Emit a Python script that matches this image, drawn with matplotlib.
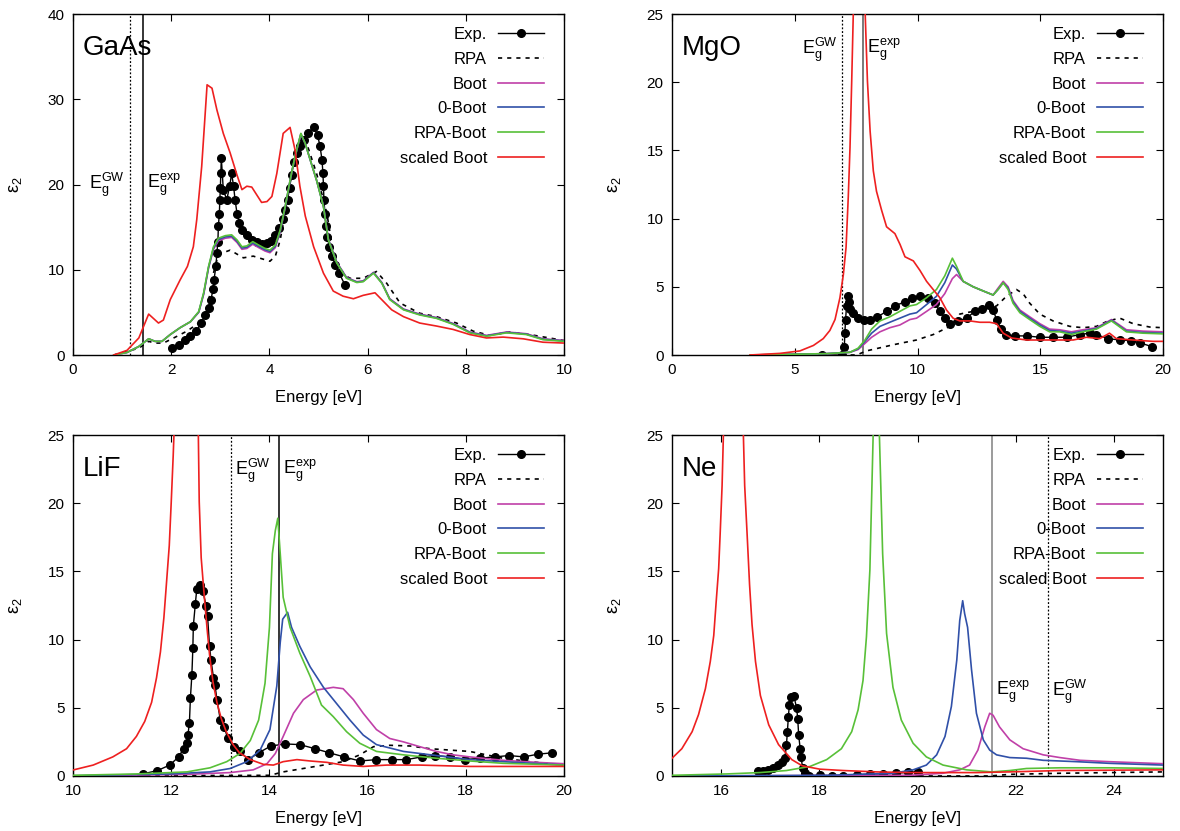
import matplotlib
matplotlib.use('Agg')
import matplotlib.pyplot as plt

plt.rcParams['font.family'] = ['Liberation Sans', 'DejaVu Sans']
plt.rcParams['mathtext.fontset'] = 'custom'
plt.rcParams['mathtext.rm'] = 'Liberation Sans'
plt.rcParams['mathtext.it'] = 'Liberation Sans:italic'
plt.rcParams['mathtext.sf'] = 'Liberation Sans'

labels = ['Exp.', 'RPA', 'Boot', '0-Boot', 'RPA-Boot', 'scaled Boot']

# ---------------- GaAs ----------------
gaas_exp_e = [2.01, 2.15, 2.28, 2.39, 2.51, 2.61, 2.69, 2.76, 2.81, 2.85, 2.87, 2.91, 2.93, 2.95, 2.96,
              2.98, 2.99, 3.0, 3.01, 3.02, 3.06, 3.13, 3.19, 3.23, 3.27, 3.30, 3.34, 3.39, 3.45, 3.54,
              3.64, 3.74, 3.84, 3.95, 4.03, 4.12, 4.20, 4.27, 4.32, 4.37, 4.41, 4.45, 4.49, 4.56, 4.62,
              4.71, 4.79, 4.90, 4.98, 5.03, 5.07, 5.09, 5.10, 5.11, 5.13, 5.15, 5.18, 5.22, 5.27, 5.34,
              5.42, 5.54]
gaas_exp = [0.8, 1.2, 1.8, 2.2, 2.8, 3.75, 4.7, 5.5, 6.5, 7.7, 8.8, 10.4, 12.0, 13.3, 15.1,
            16.6, 18.2, 19.6, 21.3, 23.1, 19.4, 18.2, 19.8, 21.3, 19.8, 18.2, 16.6, 15.5, 14.7, 14.1,
            13.5, 13.2, 13.0, 13.1, 13.4, 14.1, 14.9, 15.9, 17.0, 18.2, 19.6, 21.1, 22.7, 23.7, 24.5,
            25.2, 26.0, 26.8, 25.8, 24.5, 22.9, 21.3, 19.8, 18.2, 16.6, 15.1, 13.9, 12.7, 11.6, 10.6,
            9.6, 8.2]

gaas_rpa_e = [0.83, 1.34, 1.54, 1.67, 1.84, 2.05, 2.32, 2.56, 2.73, 2.86, 2.96, 3.2, 3.47, 3.67, 4.01,
              4.12, 4.22, 4.42, 4.56, 4.66, 4.76, 4.96, 5.17, 5.30, 5.47, 5.64, 5.91, 6.18, 6.39, 6.66,
              7.06, 7.40, 7.81, 8.15, 8.49, 8.89, 9.30, 10.0]
gaas_rpa = [0, 0.8, 1.6, 1.4, 1.4, 2.0, 2.8, 3.75, 5.3, 9.6, 11.8, 12.3, 11.4, 11.6, 11.0,
            11.6, 13.5, 20.3, 23.3, 25.2, 24.8, 21.3, 16.6, 12.0, 9.6, 9.0, 9.0, 9.8, 8.4, 6.1,
            4.9, 4.5, 3.75, 2.8, 2.3, 2.7, 2.4, 1.7]

gaas_boot_e = [0.83, 1.1, 1.34, 1.54, 1.67, 1.81, 1.98, 2.18, 2.39, 2.56, 2.66, 2.76, 2.86, 2.96, 3.10,
               3.23, 3.34, 3.44, 3.54, 3.66, 3.78, 3.91, 4.01, 4.12, 4.22, 4.32, 4.42, 4.52, 4.64, 4.73,
               4.83, 4.96, 5.10, 5.20, 5.37, 5.57, 5.78, 5.91, 6.12, 6.29, 6.45, 6.73, 7.06, 7.40, 7.74,
               8.08, 8.42, 8.83, 9.23, 9.57, 10.0]
gaas_boot = [0, 0.3, 1.0, 1.9, 1.6, 1.6, 2.4, 3.2, 3.9, 5.0, 7.1, 10.2, 12.4, 13.4, 13.7,
             13.8, 13.2, 12.4, 12.5, 13.0, 12.6, 12.2, 12.0, 12.6, 14.5, 17.3, 20.4, 23.2, 25.9, 24.8,
             22.9, 20.5, 17.5, 13.6, 10.9, 9.1, 8.6, 8.7, 9.7, 8.5, 6.6, 5.4, 4.8, 4.4, 3.7,
             2.7, 2.3, 2.7, 2.5, 1.9, 1.7]
gaas_zboot = [0, 0.3, 1.0, 1.9, 1.6, 1.6, 2.4, 3.2, 3.9, 5.05, 7.2, 10.3, 12.55, 13.55, 13.85,
              13.95, 13.35, 12.55, 12.65, 13.15, 12.75, 12.35, 12.15, 12.75, 14.6, 17.35, 20.45, 23.25, 25.95, 24.8,
              22.9, 20.5, 17.45, 13.55, 10.85, 9.05, 8.55, 8.65, 9.65, 8.45, 6.55, 5.35, 4.75, 4.35, 3.65,
              2.65, 2.25, 2.65, 2.45, 1.85, 1.65]
gaas_rboot = [0, 0.3, 1.0, 1.9, 1.6, 1.6, 2.4, 3.2, 3.9, 5.1, 7.3, 10.4, 12.7, 13.7, 14.0,
              14.1, 13.5, 12.7, 12.8, 13.3, 12.9, 12.5, 12.3, 12.9, 14.7, 17.4, 20.5, 23.3, 26.0, 24.8,
              22.9, 20.5, 17.4, 13.5, 10.8, 9.0, 8.5, 8.6, 9.6, 8.4, 6.5, 5.3, 4.7, 4.3, 3.6,
              2.6, 2.2, 2.6, 2.4, 1.8, 1.6]

gaas_sboot_e = [0.83, 1.1, 1.34, 1.54, 1.74, 1.84, 1.98, 2.18, 2.33, 2.45, 2.52, 2.62, 2.73, 2.83, 2.93,
                3.06, 3.20, 3.34, 3.44, 3.54, 3.64, 3.74, 3.84, 3.95, 4.05, 4.15, 4.28, 4.42, 4.52, 4.62,
                4.73, 4.90, 5.10, 5.30, 5.50, 5.71, 5.91, 6.15, 6.32, 6.49, 6.73, 7.06, 7.40, 7.74, 8.08,
                8.42, 8.76, 9.17, 9.57, 10.0]
gaas_sboot = [0, 0.55, 2.0, 4.8, 3.75, 4.1, 6.5, 8.8, 10.4, 12.7, 15.9, 22.1, 31.7, 31.3, 28.75,
              26.0, 23.7, 21.1, 19.4, 19.8, 19.7, 18.8, 17.9, 18.0, 18.6, 21.3, 26.0, 26.7, 24.1, 19.8,
              16.3, 12.7, 9.6, 7.5, 6.9, 6.6, 7.0, 7.3, 6.3, 5.3, 4.5, 3.75, 3.4, 3.0, 2.4,
              2.0, 2.1, 1.9, 1.5, 1.4]

# ---------------- MgO ----------------
mgo_exp_e = [6.09, 6.91, 7.02, 7.04, 7.07, 7.11, 7.15, 7.20, 7.27, 7.38, 7.58, 7.82, 8.06, 8.37, 8.74,
             9.08, 9.48, 9.76, 10.09, 10.43, 10.71, 10.91, 11.11, 11.32, 11.66, 12.0, 12.33, 12.61, 12.92, 13.08,
             13.22, 13.42, 13.62, 13.96, 14.44, 14.98, 15.52, 16.07, 16.61, 17.02, 17.29, 17.76, 18.24, 18.71, 19.05,
             19.57]
mgo_exp = [0, 0, 0.6, 1.6, 2.6, 3.6, 4.3, 3.9, 3.4, 3.1, 2.7, 2.6, 2.6, 2.8, 3.2,
           3.6, 3.9, 4.2, 4.3, 4.2, 3.8, 3.2, 2.7, 2.3, 2.5, 2.7, 3.2, 3.4, 3.7, 3.3,
           2.6, 1.9, 1.5, 1.4, 1.4, 1.3, 1.3, 1.3, 1.5, 1.6, 1.5, 1.2, 1.1, 1.05, 0.9,
           0.6]

mgo_rpa_e = [6.9, 7.52, 7.92, 9.01, 9.96, 10.64, 11.32, 11.72, 12.27, 12.81, 13.22, 13.62, 14.03, 14.30, 14.57,
             14.98, 15.52, 16.2, 16.74, 17.29, 17.76, 18.24, 18.78, 19.46, 20.0]
mgo_rpa = [0, 0, 0.3, 0.75, 1.1, 1.5, 2.1, 3.0, 3.2, 3.4, 3.6, 4.3, 4.8, 4.5, 3.8,
           3.0, 2.5, 2.1, 2.0, 2.1, 2.5, 2.7, 2.3, 2.05, 2.0]

mgo_boot_e = [3.18, 6.30, 7.25, 7.58, 7.86, 8.13, 8.47, 8.87, 9.28, 9.69, 9.96, 10.37, 10.77, 11.11, 11.42,
              11.59, 11.86, 12.27, 12.67, 13.08, 13.28, 13.49, 13.69, 13.89, 14.17, 14.57, 14.98, 15.38, 15.79, 16.27,
              16.74, 17.29, 17.90, 18.51, 19.19, 20.0]
mgo_boot = [0, 0.1, 0.2, 0.4, 0.85, 1.3, 1.7, 2.0, 2.2, 2.6, 2.7, 3.2, 3.7, 4.5, 5.6,
            5.9, 5.4, 5.0, 4.7, 4.4, 4.9, 5.4, 5.0, 4.0, 3.3, 2.8, 2.3, 1.9, 1.85, 1.7,
            1.85, 2.0, 2.6, 1.85, 1.75, 1.7]
mgo_zboot = [0, 0.1, 0.2, 0.45, 1.0, 1.6, 2.1, 2.4, 2.7, 3.0, 3.1, 3.7, 4.3, 5.3, 6.6,
             6.3, 5.4, 5.0, 4.7, 4.4, 4.8, 5.3, 4.9, 3.9, 3.2, 2.7, 2.2, 1.8, 1.75, 1.6,
             1.75, 1.95, 2.55, 1.75, 1.65, 1.6]
mgo_rboot = [0, 0.1, 0.2, 0.5, 1.1, 1.9, 2.5, 2.8, 3.2, 3.6, 3.7, 4.2, 4.8, 5.8, 7.1,
             6.5, 5.4, 5.0, 4.7, 4.4, 4.8, 5.3, 4.8, 3.8, 3.1, 2.6, 2.1, 1.7, 1.7, 1.5,
             1.7, 1.9, 2.5, 1.7, 1.6, 1.55]

mgo_sboot_e = [3.18, 4.4, 5.21, 5.76, 6.16, 6.43, 6.64, 6.84, 6.98, 7.09, 7.18, 7.25, 7.32, 7.39, 7.6,
               7.86, 7.96, 8.07, 8.2, 8.33, 8.54, 8.74, 9.08, 9.29, 9.49, 9.83, 10.1, 10.37, 10.64, 10.91,
               11.18, 11.45, 11.72, 12.13, 12.54, 12.94, 13.22, 13.49, 13.83, 14.44, 15.12, 15.79, 16.34, 16.88, 17.42,
               17.82, 18.10, 18.78, 19.59, 20.0]
mgo_sboot = [0, 0.12, 0.3, 0.7, 1.2, 1.8, 2.6, 4.2, 5.9, 7.9, 11.6, 15.2, 20.1, 25.5, 60,
             25.5, 20.1, 16.4, 13.5, 12.0, 10.6, 9.4, 8.9, 8.1, 7.2, 6.9, 6.2, 5.4, 4.8, 4.2,
             3.3, 2.7, 2.5, 2.5, 2.4, 2.4, 2.3, 1.6, 1.25, 1.1, 1.1, 1.1, 1.1, 1.3, 1.2,
             1.6, 1.2, 1.1, 1.0, 1.0]

# ---------------- LiF ----------------
lif_exp_e = [11.42, 11.72, 11.97, 12.15, 12.25, 12.32, 12.34, 12.37, 12.39, 12.42, 12.44, 12.45, 12.49, 12.52, 12.59,
             12.64, 12.71, 12.74, 12.78, 12.81, 12.86, 12.89, 12.93, 13.0, 13.08, 13.15, 13.27, 13.40, 13.57, 13.78,
             14.03, 14.32, 14.62, 14.93, 15.22, 15.52, 15.84, 16.18, 16.49, 16.79, 17.10, 17.37, 17.67, 17.98, 18.28,
             18.59, 18.88, 19.18, 19.47, 19.76]
lif_exp = [0.15, 0.4, 0.8, 1.4, 2.0, 2.4, 3.0, 3.9, 5.7, 7.4, 9.35, 11.0, 12.6, 13.7, 14.0,
           13.6, 12.5, 11.7, 9.5, 8.5, 7.2, 6.7, 5.6, 4.1, 3.6, 2.75, 2.1, 1.8, 1.2, 1.7,
           2.2, 2.35, 2.3, 2.0, 1.7, 1.4, 1.1, 1.2, 1.2, 1.2, 1.4, 1.5, 1.4, 1.2, 1.3,
           1.4, 1.5, 1.4, 1.6, 1.7]

lif_rpa_e = [10, 14.01, 14.28, 14.69, 15.1, 15.5, 15.84, 16.12, 16.45, 16.86, 17.27, 17.67, 18.08, 18.42, 18.76,
             19.3, 20]
lif_rpa = [0, 0.05, 0.3, 0.55, 0.8, 1.05, 1.55, 2.15, 2.25, 2.2, 2.0, 1.9, 1.8, 1.55, 1.3,
           1.05, 0.8]

lif_boot_e = [10, 12.32, 13.2, 13.67, 13.95, 14.12, 14.28, 14.49, 14.69, 14.96, 15.30, 15.5, 15.71, 15.91, 16.18,
              16.45, 16.73, 17.06, 17.4, 17.74, 18.08, 18.76, 19.44, 20]
lif_boot = [0, 0.12, 0.25, 0.45, 0.9, 1.65, 2.9, 4.6, 5.6, 6.3, 6.5, 6.4, 5.6, 4.6, 3.4,
            2.75, 2.5, 2.15, 1.8, 1.55, 1.4, 1.15, 1.0, 0.9]

lif_zboot_e = [10, 11.98, 12.79, 13.2, 13.54, 13.81, 14.01, 14.15, 14.22, 14.27, 14.37, 14.45, 14.62, 14.83, 15.1,
               15.37, 15.64, 15.91, 16.18, 16.73, 17.4, 18.08, 18.76, 20]
lif_zboot = [0.02, 0.15, 0.3, 0.55, 1.05, 1.9, 3.4, 6.6, 9.8, 11.5, 12.0, 10.9, 9.5, 8.0, 6.5,
             5.3, 4.1, 3.0, 2.3, 1.8, 1.5, 1.2, 1.05, 0.8]

lif_rboot_e = [10, 11.3, 12.32, 12.79, 13.13, 13.4, 13.61, 13.78, 13.91, 14.0, 14.06, 14.12, 14.17, 14.22, 14.28,
               14.42, 14.62, 14.83, 15.06, 15.30, 15.57, 15.84, 16.18, 16.73, 17.4, 18.08, 18.76, 20]
lif_rboot = [0.05, 0.15, 0.3, 0.6, 1.05, 1.65, 2.6, 4.1, 6.8, 10.9, 16.3, 18.0, 18.9, 16.3, 13.1,
             10.9, 9.0, 7.3, 5.2, 4.35, 3.25, 2.4, 1.8, 1.55, 1.3, 1.1, 0.93, 0.8]

lif_sboot_e = [10.0, 10.41, 10.81, 11.09, 11.29, 11.46, 11.6, 11.7, 11.78, 11.85, 11.9, 11.96, 12.0, 12.04, 12.06,
               12.3, 12.55, 12.57, 12.61, 12.67, 12.73, 12.78, 12.85, 12.93, 13.02, 13.12, 13.26, 13.39, 13.61, 13.88,
               14.08, 14.28, 14.56, 14.83, 15.17, 15.5, 15.91, 16.39, 17.06, 18.08, 18.76, 19.44, 20.0]
lif_sboot = [0.44, 0.8, 1.4, 2.0, 2.9, 4.0, 5.4, 7.2, 9.1, 11.6, 14.0, 16.9, 20.1, 23.5, 25.5,
             60, 25.5, 20.1, 16.0, 13.3, 10.8, 8.9, 6.9, 5.4, 4.2, 3.25, 2.3, 1.7, 1.2, 0.85,
             0.8, 1.05, 1.2, 1.1, 1.0, 0.8, 0.7, 0.8, 0.8, 0.7, 0.7, 0.7, 0.7]

# ---------------- Ne ----------------
ne_exp_e = [16.76, 16.86, 16.96, 17.06, 17.16, 17.23, 17.30, 17.33, 17.35, 17.37, 17.39, 17.42, 17.48, 17.54, 17.56,
            17.58, 17.61, 17.63, 17.66, 17.71, 17.78, 18.01, 18.25, 18.49, 18.76, 19.03, 19.30, 19.57, 19.81, 20.01]
ne_exp = [0.35, 0.4, 0.45, 0.55, 0.8, 1.05, 1.35, 2.25, 3.25, 4.35, 5.2, 5.8, 5.9, 4.95, 4.2,
          3.0, 2.0, 1.4, 0.55, 0.25, 0.0, 0.07, 0.0, 0.0, 0.07, 0.15, 0.15, 0.2, 0.27, 0.32]

ne_rpa_e = [15, 21.47, 21.88, 22.9, 25]
ne_rpa = [0, 0, 0.12, 0.2, 0.3]

ne_boot_e = [15, 19.84, 20.52, 20.86, 21.06, 21.23, 21.37, 21.47, 21.54, 21.67, 21.88, 22.15, 22.56, 22.9, 23.31,
             23.9, 25]
ne_boot = [0, 0.05, 0.2, 0.45, 0.8, 1.9, 3.6, 4.6, 4.45, 3.6, 2.65, 2.0, 1.55, 1.35, 1.15,
           1.05, 0.9]

ne_zboot_e = [15, 18.15, 19.5, 19.91, 20.18, 20.39, 20.56, 20.69, 20.8, 20.86, 20.92, 20.96, 21.02, 21.1, 21.2,
              21.34, 21.47, 21.61, 21.88, 22.22, 22.56, 23.24, 23.9, 25]
ne_zboot = [0, 0.05, 0.2, 0.45, 0.8, 1.55, 2.9, 5.1, 8.5, 11.4, 12.85, 11.9, 10.9, 7.8, 4.6,
            2.65, 1.9, 1.55, 1.35, 1.3, 1.15, 1.05, 0.93, 0.8]

ne_rboot_e = [15, 16.11, 16.79, 17.33, 17.81, 18.15, 18.45, 18.66, 18.79, 18.89, 18.96, 19.03, 19.10, 19.15, 19.22,
              19.29, 19.37, 19.5, 19.67, 19.91, 20.18, 20.52, 21.0, 21.51, 21.88, 22.22, 22.9, 23.9, 25]
ne_rboot = [0.05, 0.15, 0.25, 0.4, 0.7, 1.2, 2.0, 3.25, 4.85, 7.0, 10.2, 15.1, 25.5, 50, 25.5,
            16.3, 10.45, 6.5, 4.1, 2.4, 1.4, 0.8, 0.45, 0.3, 0.4, 0.55, 0.6, 0.6, 0.55]

ne_sboot_e = [15.0, 15.2, 15.41, 15.54, 15.68, 15.78, 15.85, 15.9, 15.95, 15.98, 16.02, 16.05, 16.25, 16.45, 16.48,
              16.53, 16.58, 16.63, 16.7, 16.8, 16.97, 17.17, 17.44, 17.65, 18.01, 18.49, 19.17, 19.84, 20.52, 21.2,
              21.88, 22.9, 25]
ne_sboot = [1.3, 2.0, 3.25, 4.5, 6.4, 8.4, 10.3, 12.8, 15.2, 17.7, 21.3, 25.5, 60, 25.5, 21.3,
            17.7, 14.0, 11.1, 8.4, 5.9, 3.75, 2.3, 1.2, 0.75, 0.5, 0.4, 0.3, 0.25, 0.25, 0.25,
            0.3, 0.4, 0.45]

# gaps: (E_g^GW, E_g^exp)
gaps = {'GaAs': (1.15, 1.43), 'MgO': (6.91, 7.79), 'LiF': (13.21, 14.2), 'Ne': (22.66, 21.51)}

col_boot = '#c040a8'
col_zboot = '#3050a8'
col_rboot = '#58c038'
col_sboot = '#ee2020'

panels = [
    dict(name='GaAs', pos=[0.0619, 0.5728, 0.4161, 0.4103],
         exp=(gaas_exp_e, gaas_exp), rpa=(gaas_rpa_e, gaas_rpa),
         boot=(gaas_boot_e, gaas_boot), zboot=(gaas_boot_e, gaas_zboot),
         rboot=(gaas_boot_e, gaas_rboot), sboot=(gaas_sboot_e, gaas_sboot),
         xlim=(0, 10), ylim=(0, 40), xticks=[0, 2, 4, 6, 8, 10], yticks=[0, 10, 20, 30, 40],
         label_y=20, gw_left=True, gap_col='black'),
    dict(name='MgO', pos=[0.5695, 0.5728, 0.4161, 0.4103],
         exp=(mgo_exp_e, mgo_exp), rpa=(mgo_rpa_e, mgo_rpa),
         boot=(mgo_boot_e, mgo_boot), zboot=(mgo_boot_e, mgo_zboot),
         rboot=(mgo_boot_e, mgo_rboot), sboot=(mgo_sboot_e, mgo_sboot),
         xlim=(0, 20), ylim=(0, 25), xticks=[0, 5, 10, 15, 20], yticks=[0, 5, 10, 15, 20, 25],
         label_y=22.4, gw_left=True, gap_col='#555555'),
    dict(name='LiF', pos=[0.0619, 0.0662, 0.4161, 0.4103],
         exp=(lif_exp_e, lif_exp), rpa=(lif_rpa_e, lif_rpa),
         boot=(lif_boot_e, lif_boot), zboot=(lif_zboot_e, lif_zboot),
         rboot=(lif_rboot_e, lif_rboot), sboot=(lif_sboot_e, lif_sboot),
         xlim=(10, 20), ylim=(0, 25), xticks=[10, 12, 14, 16, 18, 20], yticks=[0, 5, 10, 15, 20, 25],
         label_y=22.4, gw_left=False, gap_col='black'),
    dict(name='Ne', pos=[0.5695, 0.0662, 0.4161, 0.4103],
         exp=(ne_exp_e, ne_exp), rpa=(ne_rpa_e, ne_rpa),
         boot=(ne_boot_e, ne_boot), zboot=(ne_zboot_e, ne_zboot),
         rboot=(ne_rboot_e, ne_rboot), sboot=(ne_sboot_e, ne_sboot),
         xlim=(15, 25), ylim=(0, 25), xticks=[16, 18, 20, 22, 24], yticks=[0, 5, 10, 15, 20, 25],
         label_y=6.2, gw_left=False, gap_col='#808080'),
]

fig = plt.figure(figsize=(11.8, 8.31), dpi=100)

for p in panels:
    ax = fig.add_axes(p['pos'])
    gw, gexp = gaps[p['name']]

    ax.axvline(gw, color='black', lw=0.9, ls=(0, (1.5, 1.5)), zorder=1)
    ax.axvline(gexp, color=p['gap_col'], lw=1.1, zorder=1)

    ax.plot(*p['exp'], color='black', lw=1.0, marker='o', ms=5.5, label=labels[0], zorder=3)
    ax.plot(*p['rpa'], color='black', lw=1.2, ls=(0, (2.5, 3)), label=labels[1], zorder=3)
    ax.plot(*p['boot'], color=col_boot, lw=1.2, label=labels[2], zorder=3)
    ax.plot(*p['zboot'], color=col_zboot, lw=1.2, label=labels[3], zorder=3)
    ax.plot(*p['rboot'], color=col_rboot, lw=1.2, label=labels[4], zorder=3)
    ax.plot(*p['sboot'], color=col_sboot, lw=1.2, label=labels[5], zorder=3)

    gw_txt = r'$\mathrm{E_g^{GW}}$'
    exp_txt = r'$\mathrm{E_g^{exp}}$'
    if p['gw_left']:
        ax.annotate(gw_txt, xy=(gw, p['label_y']), xytext=(-3, 0), textcoords='offset points',
                    ha='right', va='center', fontsize=13)
    else:
        ax.annotate(gw_txt, xy=(gw, p['label_y']), xytext=(3, 0), textcoords='offset points',
                    ha='left', va='center', fontsize=13)
    ax.annotate(exp_txt, xy=(gexp, p['label_y']), xytext=(3, 0), textcoords='offset points',
                ha='left', va='center', fontsize=13)

    ax.text(0.02, 0.9, p['name'], transform=ax.transAxes, fontsize=20, ha='left', va='center')

    ax.set_xlim(*p['xlim'])
    ax.set_ylim(*p['ylim'])
    ax.set_xticks(p['xticks'])
    ax.set_yticks(p['yticks'])
    ax.tick_params(direction='in', top=True, right=True, length=5, width=0.8,
                   labelsize=11, pad=6)
    for s in ax.spines.values():
        s.set_linewidth(1.0)

    ax.set_xlabel('Energy [eV]', fontsize=12)
    ax.set_ylabel(r'$\mathrm{\varepsilon_2}$', fontsize=13)
    ax.xaxis.set_label_coords(0.5, -0.103)
    ax.yaxis.set_label_coords(-0.10, 0.5)

    ax.legend(loc='upper right', bbox_to_anchor=(1.0, 1.02), frameon=False,
              markerfirst=False, fontsize=12, handlelength=2.76, handletextpad=0.66,
              labelspacing=0.58, borderaxespad=0.8)

fig.savefig('out.png', dpi=100)
